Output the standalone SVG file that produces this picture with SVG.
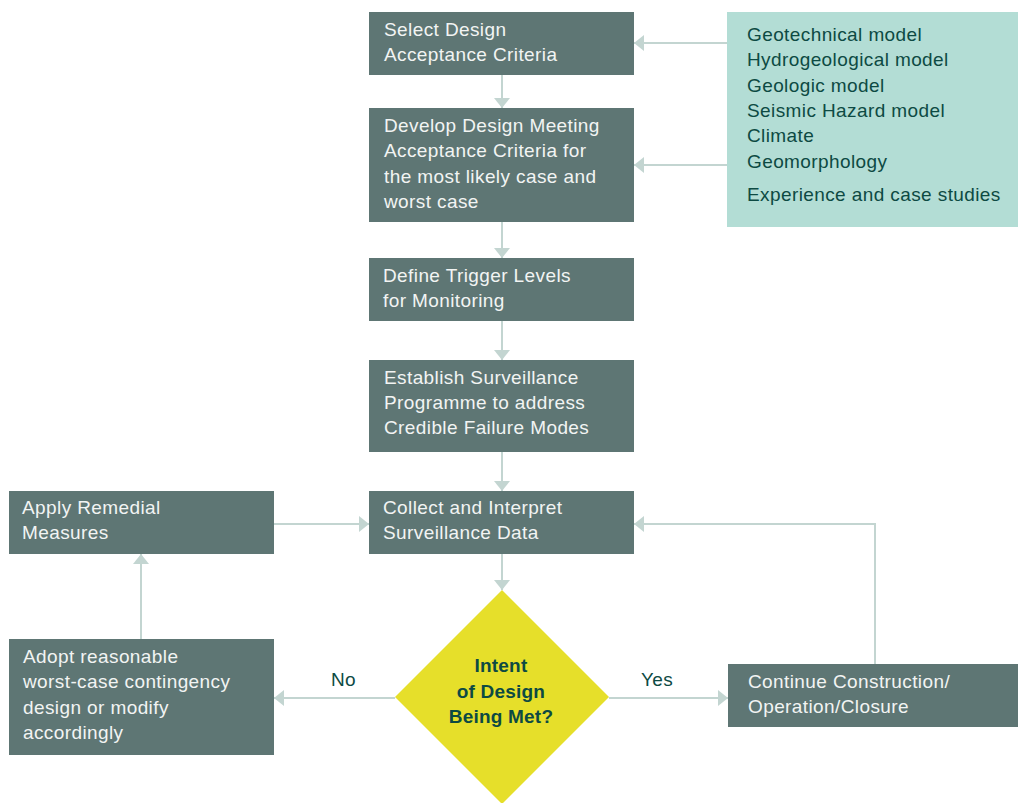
<svg xmlns="http://www.w3.org/2000/svg" width="1018" height="803" viewBox="0 0 1018 803">
<style>
.box{fill:#5e7674}
.bt{font-family:"Liberation Sans",Arial,sans-serif;font-size:19px;letter-spacing:0.4px;fill:#f2f4f3}
.gt{font-family:"Liberation Sans",Arial,sans-serif;font-size:19px;letter-spacing:0.4px;fill:#0d4a43}
.dt{font-family:"Liberation Sans",Arial,sans-serif;font-size:19px;letter-spacing:0.2px;font-weight:bold;fill:#0d4a43;text-anchor:middle}
.lbl{font-family:"Liberation Sans",Arial,sans-serif;font-size:19px;letter-spacing:0.4px;fill:#0d4a43}
.con{fill:none;stroke:#c3d5d1;stroke-width:2}
</style>
<defs>
<marker id="ah" markerUnits="userSpaceOnUse" markerWidth="10" markerHeight="16" viewBox="0 0 10 16" refX="10" refY="8" orient="auto">
<path d="M0,0 L10,8 L0,16 Z" fill="#c3d5d1"/>
</marker>
</defs>
<g id="connectors">
<path class="con" d="M727,43 H634" marker-end="url(#ah)"/>
<path class="con" d="M727,165 H634" marker-end="url(#ah)"/>
<path class="con" d="M502,75 V108" marker-end="url(#ah)"/>
<path class="con" d="M502,222 V258" marker-end="url(#ah)"/>
<path class="con" d="M502,321 V360" marker-end="url(#ah)"/>
<path class="con" d="M502,452 V491" marker-end="url(#ah)"/>
<path class="con" d="M502,554 V590" marker-end="url(#ah)"/>
<path class="con" d="M274,524 H369" marker-end="url(#ah)"/>
<path class="con" d="M141,639 V554" marker-end="url(#ah)"/>
<path class="con" d="M395,698 H274" marker-end="url(#ah)"/>
<path class="con" d="M609,698 H728" marker-end="url(#ah)"/>
<path class="con" d="M875,664 V524 H634" marker-end="url(#ah)"/>
<text class="lbl" x="331" y="686">No</text>
<text class="lbl" x="641" y="686">Yes</text>
</g>
<g id="select">
<rect class="box" x="369" y="12" width="265" height="63"/>
<text class="bt" x="384" y="36">Select Design</text>
<text class="bt" x="384" y="61">Acceptance Criteria</text>
</g>
<g id="inputs">
<rect x="727" y="12" width="291" height="215" fill="#b3ddd5"/>
<text class="gt" x="747" y="41">Geotechnical model</text>
<text class="gt" x="747" y="66">Hydrogeological model</text>
<text class="gt" x="747" y="92">Geologic model</text>
<text class="gt" x="747" y="117">Seismic Hazard model</text>
<text class="gt" x="747" y="142">Climate</text>
<text class="gt" x="747" y="168">Geomorphology</text>
<text class="gt" x="747" y="201">Experience and case studies</text>
</g>
<g id="develop">
<rect class="box" x="369" y="108" width="265" height="114"/>
<text class="bt" x="384" y="132">Develop Design Meeting</text>
<text class="bt" x="384" y="157">Acceptance Criteria for</text>
<text class="bt" x="384" y="183">the most likely case and</text>
<text class="bt" x="384" y="208">worst case</text>
</g>
<g id="trigger">
<rect class="box" x="369" y="258" width="265" height="63"/>
<text class="bt" x="383" y="282">Define Trigger Levels</text>
<text class="bt" x="383" y="307">for Monitoring</text>
</g>
<g id="surveillance">
<rect class="box" x="369" y="360" width="265" height="92"/>
<text class="bt" x="384" y="384">Establish Surveillance</text>
<text class="bt" x="384" y="409">Programme to address</text>
<text class="bt" x="384" y="434">Credible Failure Modes</text>
</g>
<g id="collect">
<rect class="box" x="369" y="491" width="265" height="63"/>
<text class="bt" x="383" y="514">Collect and Interpret</text>
<text class="bt" x="383" y="539">Surveillance Data</text>
</g>
<g id="remedial">
<rect class="box" x="9" y="491" width="265" height="63"/>
<text class="bt" x="22" y="514">Apply Remedial</text>
<text class="bt" x="22" y="539">Measures</text>
</g>
<g id="adopt">
<rect class="box" x="9" y="639" width="265" height="116"/>
<text class="bt" x="23" y="663">Adopt reasonable</text>
<text class="bt" x="23" y="688">worst-case contingency</text>
<text class="bt" x="23" y="714">design or modify</text>
<text class="bt" x="23" y="739">accordingly</text>
</g>
<g id="decision">
<path d="M502,590 L609,697 L502,804 L395,697 Z" fill="#e6df2a"/>
<text class="dt" x="501" y="672">Intent</text>
<text class="dt" x="501" y="698">of Design</text>
<text class="dt" x="501" y="723">Being Met?</text>
</g>
<g id="continue">
<rect class="box" x="728" y="664" width="290" height="63"/>
<text class="bt" x="748" y="688">Continue Construction/</text>
<text class="bt" x="748" y="713">Operation/Closure</text>
</g>
</svg>
